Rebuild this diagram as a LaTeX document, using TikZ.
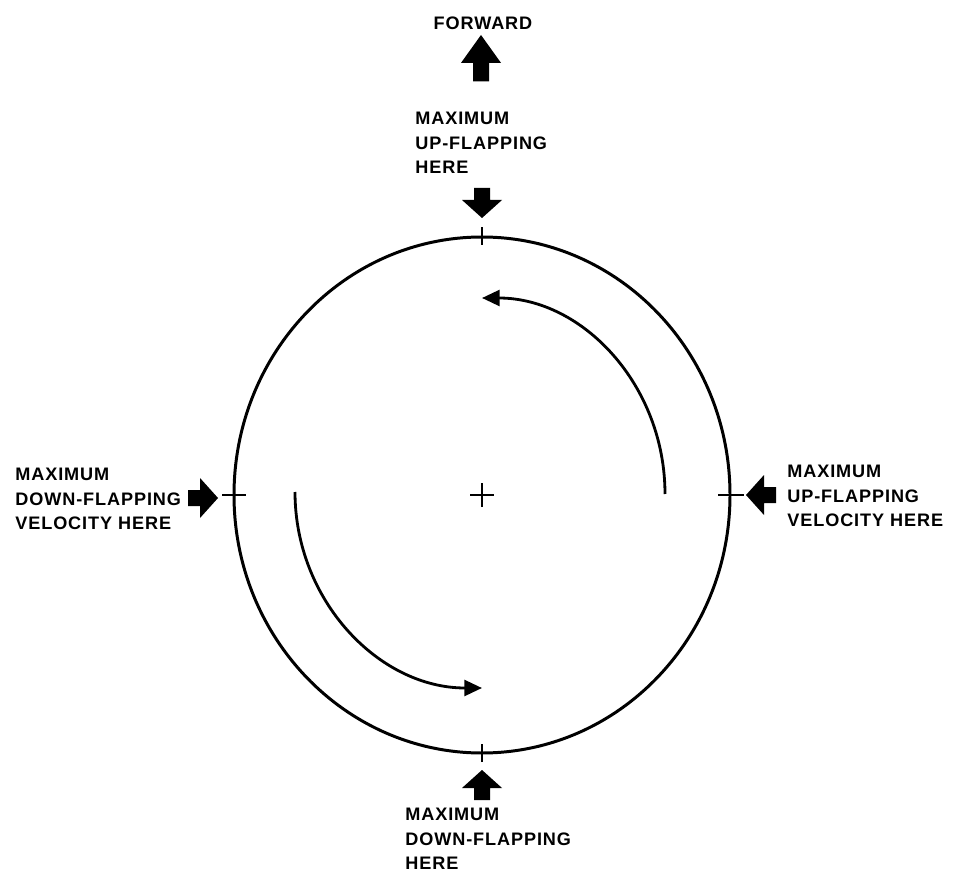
\documentclass[tikz,border=0pt]{standalone}
\usepackage{fontspec}
\setmainfont{Liberation Sans}
\newfontfamily\notefont[LetterSpace=5]{Liberation Sans}
\usetikzlibrary{arrows.meta}
\tikzset{
  blockarrow/.pic={
    \fill (0,0) -- (-20,-18) -- (-8,-18) -- (-8,-30) -- (8,-30) -- (8,-18) -- (20,-18) -- cycle;
  },
  note/.style={font=\notefont\bfseries\fontsize{10.3}{13.9}\selectfont, align=left, inner sep=0pt, anchor=north west},
  rim/.style={line width=1.7pt},
  tick/.style={line width=1.3pt},
  flow/.style={line width=1.6pt, -{Triangle[length=10pt,width=9pt]}}
}
\begin{document}
\begin{tikzpicture}[x=0.02cm,y=0.02cm]
  \useasboundingbox (0,0) rectangle (954,877);
  \coordinate (o) at (482,382);
  \draw[rim] (o) ellipse [x radius=248, y radius=258];
  \draw[tick] (482,632) -- (482,650);
  \draw[tick] (482,115) -- (482,133);
  \draw[tick] (222,382) -- (246,382);
  \draw[tick] (718,382) -- (744,382);
  \draw[tick] (470,382) -- (494,382);
  \draw[tick] (482,370) -- (482,394);
  \draw[flow] (665,383) arc[start angle=0, end angle=90, x radius=183, y radius=196];
  \draw[flow] (295,385) arc[start angle=180, end angle=270, x radius=187, y radius=196];
  \node[font=\notefont\bfseries\fontsize{10.3}{13.9}\selectfont, inner sep=0pt] (fwd) at (483,854) {FORWARD};
  \pic[yscale=1.55] at (481,842) {blockarrow};
  \node[note] (upmax) at (415,765) {MAXIMUM\\UP-FLAPPING\\HERE};
  \pic[rotate=180] at (482,659) {blockarrow};
  \node[note] (downvel) at (15,409) {MAXIMUM\\DOWN-FLAPPING\\VELOCITY HERE};
  \pic[rotate=-90] at (218,379) {blockarrow};
  \node[note] (upvel) at (787,412) {MAXIMUM\\UP-FLAPPING\\VELOCITY HERE};
  \pic[rotate=90] at (746,382) {blockarrow};
  \node[note] (downmax) at (405,69) {MAXIMUM\\DOWN-FLAPPING\\HERE};
  \pic at (482,107) {blockarrow};
\end{tikzpicture}
\end{document}
